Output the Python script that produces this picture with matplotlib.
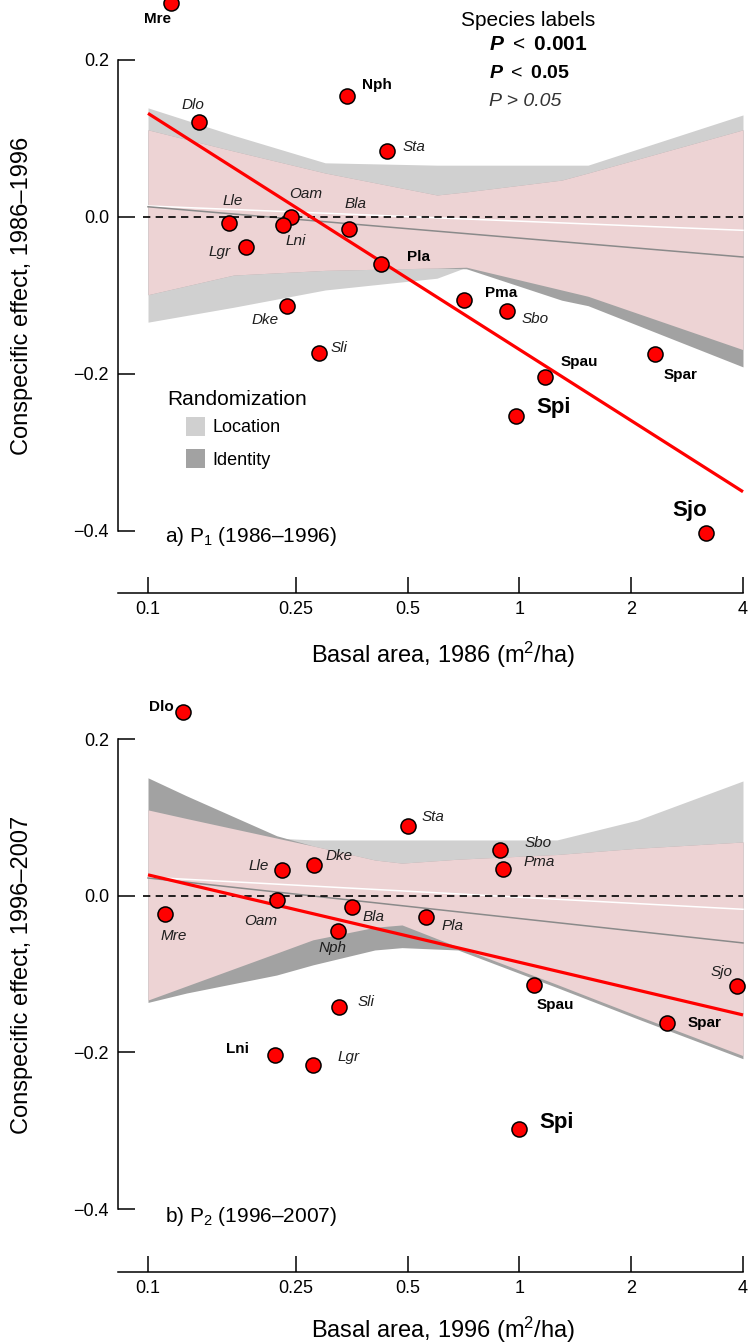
import numpy as np
import matplotlib
matplotlib.use("Agg")
import matplotlib.pyplot as plt
from matplotlib.patches import Rectangle

plt.rcParams['font.family'] = ['Liberation Sans', 'DejaVu Sans']
plt.rcParams['mathtext.fontset'] = 'custom'
plt.rcParams['mathtext.rm'] = 'Liberation Sans'
plt.rcParams['mathtext.it'] = 'Liberation Sans:italic'
plt.rcParams['mathtext.bf'] = 'Liberation Sans:bold'
has_bfit = 'mathtext.bfit' in plt.rcParams
if has_bfit:
    plt.rcParams['mathtext.bfit'] = 'Liberation Sans:bold:italic'

# ---- data, panel a (1986-1996) ----
names_a = ['Mre', 'Dlo', 'Nph', 'Lle', 'Lgr', 'Oam', 'Lni', 'Bla', 'Sta',
           'Pla', 'Pma', 'Sbo', 'Dke', 'Sli', 'Spau', 'Spar', 'Spi', 'Sjo']
basal_a = [0.115, 0.137, 0.343, 0.165, 0.184, 0.243, 0.231, 0.348, 0.440,
           0.424, 0.710, 0.926, 0.237, 0.289, 1.172, 2.32, 0.979, 3.18]
effect_a = [0.273, 0.121, 0.154, -0.008, -0.038, 0.000, -0.010, -0.015, 0.084,
            -0.060, -0.106, -0.120, -0.113, -0.173, -0.204, -0.175, -0.254, -0.403]
# 2 = P<0.001, 1 = P<0.05, 0 = P>0.05
sig_a = [1, 0, 1, 0, 0, 0, 0, 0, 0, 1, 1, 0, 0, 0, 1, 1, 2, 2]

band_x_a = [0.1, 0.17, 0.3, 0.6, 0.72, 1.3, 1.53, 4.0]
loc_up_a = [0.139, 0.104, 0.069, 0.066, 0.066, 0.066, 0.066, 0.130]
loc_lo_a = [-0.134, -0.115, -0.093, -0.078, -0.064, -0.093, -0.101, -0.169]
id_up_a = [0.111, 0.084, 0.056, 0.028, 0.032, 0.047, 0.056, 0.111]
id_lo_a = [-0.099, -0.074, -0.068, -0.065, -0.066, -0.106, -0.113, -0.191]

# ---- data, panel b (1996-2007) ----
names_b = ['Dlo', 'Mre', 'Lle', 'Dke', 'Oam', 'Bla', 'Nph', 'Sta', 'Sbo',
           'Pma', 'Pla', 'Sli', 'Lni', 'Lgr', 'Spau', 'Sjo', 'Spar', 'Spi']
basal_b = [0.124, 0.111, 0.230, 0.280, 0.222, 0.354, 0.325, 0.501, 0.887,
           0.903, 0.560, 0.327, 0.220, 0.278, 1.095, 3.855, 2.50, 0.998]
effect_b = [0.235, -0.023, 0.033, 0.040, -0.005, -0.014, -0.045, 0.090, 0.059,
            0.035, -0.027, -0.142, -0.203, -0.216, -0.114, -0.115, -0.162, -0.298]
sig_b = [1, 0, 0, 0, 0, 0, 0, 0, 0, 0, 0, 0, 1, 0, 1, 0, 1, 2]

band_x_b = [0.1, 0.127, 0.222, 0.278, 0.408, 0.483, 0.683, 1.262, 2.08, 4.0]
loc_up_b = [0.110, 0.099, 0.074, 0.0716, 0.0716, 0.0716, 0.0716, 0.0716, 0.097, 0.147]
loc_lo_b = [-0.133, -0.115, -0.073, -0.056, -0.040, -0.037, -0.065, -0.113, -0.153, -0.204]
id_up_b = [0.151, 0.128, 0.077, 0.064, 0.046, 0.042, 0.047, 0.053, 0.061, 0.069]
id_lo_b = [-0.136, -0.124, -0.101, -0.088, -0.069, -0.066, -0.069, -0.117, -0.157, -0.208]

# fitted / mean lines, given at x = 0.1 and x = 4
line_x = [0.1, 4.0]
red_a = [0.132, -0.350]
white_a = [0.014, -0.017]
gray_a = [0.013, -0.051]
red_b = [0.027, -0.152]
white_b = [0.024, -0.017]
gray_b = [0.023, -0.060]

xticks = [0.1, 0.25, 0.5, 1, 2, 4]
xticklabels = ['0.1', '0.25', '0.5', '1', '2', '4']
yticks = [-0.4, -0.2, 0.0, 0.2]
yticklabels = ['\u22120.4', '\u22120.2', '0.0', '0.2']

# label placement (offset points, alignment)
lab_a = [(-9.4, -11.5, 'center'), (-4.3, 12.2, 'center'), (10.8, 7.9, 'left'),
         (2.9, 15.8, 'center'), (-11.5, -3.6, 'right'), (10.8, 16.6, 'center'),
         (9.4, -11.5, 'center'), (4.3, 18, 'center'), (11.5, 2.9, 'left'),
         (18.7, 5, 'left'), (15.1, 5, 'left'), (10.8, -5.8, 'left'),
         (-5.8, -10, 'right'), (7.9, 3.6, 'left'), (11.5, 10.8, 'left'),
         (5.8, -15.1, 'left'), (14.4, 6.5, 'left'), (-11.5, 16.6, 'center')]
lab_b = [(-6.5, 3.6, 'right'), (6.5, -15.8, 'center'), (-10, 2.9, 'right'),
         (8.6, 6.5, 'left'), (-11.5, -15.1, 'center'), (7.9, -7.2, 'left'),
         (-4.3, -12.2, 'center'), (10, 5.8, 'left'), (17.3, 5, 'left'),
         (15.1, 5, 'left'), (11.5, -6.5, 'left'), (13, 3.6, 'left'),
         (-18.7, 4.3, 'right'), (18, 5.8, 'left'), (2.2, -14.4, 'left'),
         (-10.8, 10, 'center'), (14.4, 0, 'left'), (14.4, 5, 'left')]

C_LOC = '#d0d0d0'
C_ID = '#a2a2a2'
C_PINK = '#edd3d4'
W, H = 749, 1343
xlo = 10 ** (-1 - 30 / 371.4)


def draw_panel(ax, names, xs, ys, sig, labs, bx, lu, ll, iu, il, red, white, gray, ylim):
    bx = np.array(bx)
    lu, ll, iu, il = map(np.array, (lu, ll, iu, il))
    ax.fill_between(bx, ll, lu, color=C_LOC, lw=0, zorder=1)
    ax.fill_between(bx, il, iu, color=C_ID, lw=0, zorder=1)
    # overlap of both randomizations
    ax.fill_between(bx, np.maximum(ll, il), np.minimum(lu, iu), color=C_PINK, lw=0, zorder=2)

    ax.plot(line_x, white, color='white', lw=1.1, zorder=3)
    ax.plot(line_x, gray, color='#8a8a8a', lw=1.1, zorder=3)
    ax.plot([0.097, 4.0], [0, 0], color='black', lw=1.2, ls=(0, (4.4, 3.2)), zorder=4)
    ax.plot(line_x, red, color='#ff0000', lw=2.3, zorder=5, solid_capstyle='butt')

    ax.scatter(xs, ys, s=118, c='#ff0000', edgecolors='black', linewidths=1.1,
               zorder=6, clip_on=False)

    for nm, x, y, s, (dx, dy, ha) in zip(names, xs, ys, sig, labs):
        if s == 2:
            kw = dict(fontsize=16, fontweight='bold', color='black')
        elif s == 1:
            kw = dict(fontsize=11, fontweight='bold', color='black')
        else:
            kw = dict(fontsize=11, style='italic', color='#1e1e1e')
        ax.annotate(nm, (x, y), xytext=(dx, dy), textcoords='offset points',
                    ha=ha, va='center', zorder=7, annotation_clip=False, **kw)

    ax.set_xscale('log')
    ax.set_xlim(xlo, 10 ** (-1 + 597 / 371.4))
    ax.set_ylim(*ylim)
    ax.set_xticks(xticks)
    ax.set_xticklabels(xticklabels)
    ax.xaxis.set_minor_locator(matplotlib.ticker.NullLocator())
    ax.set_yticks(yticks)
    ax.set_yticklabels(yticklabels)
    ax.tick_params(axis='y', direction='in', length=12.2, width=1.1, pad=6.5, labelsize=13)
    ax.tick_params(axis='x', direction='in', length=11.5, width=1.1, pad=6, labelsize=13)
    for side in ['top', 'right']:
        ax.spines[side].set_visible(False)
    ax.spines['left'].set_bounds(-0.4, 0.2)
    ax.spines['bottom'].set_bounds(xlo, 4.0)
    ax.spines['left'].set_linewidth(1.1)
    ax.spines['bottom'].set_linewidth(1.1)
    ax.patch.set_alpha(0)


fig = plt.figure(figsize=(W / 100, H / 100), dpi=100)
ax_a = fig.add_axes([118 / W, 1 - 593 / H, 627 / W, 593 / H])
ax_b = fig.add_axes([118 / W, 1 - 1272 / H, 627 / W, 592 / H])

draw_panel(ax_a, names_a, basal_a, effect_a, sig_a, lab_a, band_x_a,
           loc_up_a, loc_lo_a, id_up_a, id_lo_a, red_a, white_a, gray_a,
           (-0.479, 0.2764))
draw_panel(ax_b, names_b, basal_b, effect_b, sig_b, lab_b, band_x_b,
           loc_up_b, loc_lo_b, id_up_b, id_lo_b, red_b, white_b, gray_b,
           (-0.4805, 0.276))


def ftxt(px, py, s, **kw):
    fig.text(px / W, 1 - py / H, s, **kw)


# axis titles
ftxt(22, 296, 'Conspecific effect, 1986\u20131996', rotation=90, ha='center', va='center', fontsize=17)
ftxt(22, 975, 'Conspecific effect, 1996\u20132007', rotation=90, ha='center', va='center', fontsize=17)
ftxt(443, 655, 'Basal area, 1986 (m$^{2}$/ha)', ha='center', va='center', fontsize=17)
ftxt(443, 1330, 'Basal area, 1996 (m$^{2}$/ha)', ha='center', va='center', fontsize=17)

# panel tags
ftxt(165, 537, 'a) P$_{1}$ (1986\u20131996)', ha='left', va='center', fontsize=15)
ftxt(165, 1217, 'b) P$_{2}$ (1996\u20132007)', ha='left', va='center', fontsize=15)

# species label key
pb = r'\mathbfit{P}' if has_bfit else r'\mathbf{P}'
ftxt(528, 21, 'Species labels', ha='center', va='center', fontsize=15)
ftxt(489, 45, '$' + pb + r'\ <\ \mathbf{0.001}$', ha='left', va='center', fontsize=15)
ftxt(489, 74, '$' + pb + r'\ <\ \mathbf{0.05}$', ha='left', va='center', fontsize=14)
ftxt(489, 102, 'P > 0.05', ha='left', va='center', fontsize=14, style='italic', color='#333333')

# randomization key
ftxt(167, 400, 'Randomization', ha='left', va='center', fontsize=15)
fig.patches.append(Rectangle((186 / W, 1 - 436 / H), 19 / W, 19 / H, transform=fig.transFigure,
                             facecolor=C_LOC, edgecolor='none'))
fig.patches.append(Rectangle((186 / W, 1 - 468 / H), 19 / W, 19 / H, transform=fig.transFigure,
                             facecolor=C_ID, edgecolor='none'))
ftxt(212, 428, 'Location', ha='left', va='center', fontsize=13)
ftxt(212, 460, 'Identity', ha='left', va='center', fontsize=13)

fig.savefig('out.png', dpi=100)
